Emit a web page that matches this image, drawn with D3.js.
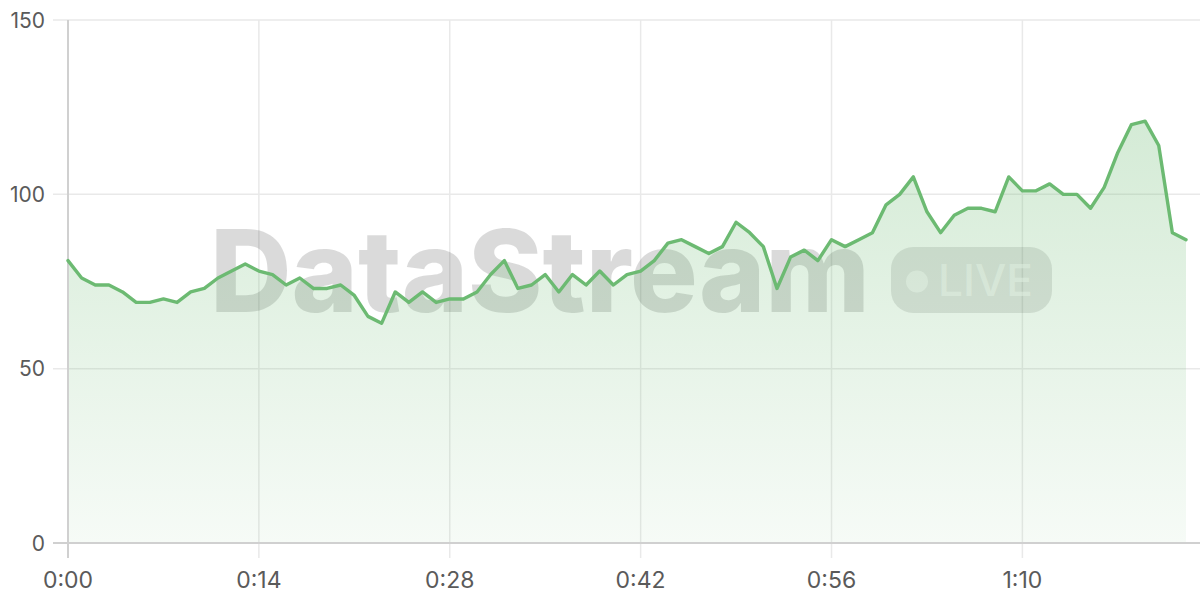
<!DOCTYPE html>
<html>
<head>
<meta charset="utf-8">
<script src="https://cdn.jsdelivr.net/npm/d3@7"></script>
<style>
  html, body { margin: 0; padding: 0; background: #ffffff; }
  svg { display: block; }
</style>
</head>
<body>
<svg id="chart" width="1200" height="600"></svg>
<script>
// ---- data ----
const seconds = d3.range(0, 83);
const values = [
  81, 76, 74, 74, 72, 69, 69, 70, 69, 72,
  73, 76, 78, 80, 78, 77, 74, 76, 73, 73,
  74, 71, 65, 63, 72, 69, 72, 69, 70, 70,
  72, 77, 81, 73, 74, 77, 72, 77, 74, 78,
  74, 77, 78, 81, 86, 87, 85, 83, 85, 92,
  89, 85, 73, 82, 84, 81, 87, 85, 87, 89,
  97, 100, 105, 95, 89, 94, 96, 96, 95, 105,
  101, 101, 103, 100, 100, 96, 102, 112, 120, 121,
  114, 89, 87
];
const xTicks = [0, 14, 28, 42, 56, 70];
const yTicks = [0, 50, 100, 150];
const watermarkTitle = "DataStream";
const watermarkBadge = "LIVE";

const data = seconds.map((s, i) => ({ s, v: values[i] }));

(function () {
const svg = d3.select("#chart");
const mLeft = 68, mRight = 1186, mTop = 20, mBottom = 543, gridRight = 1200;
const labelFont = "Inter, 'Liberation Sans', Arial, sans-serif";

const x = d3.scaleLinear().domain([0, 82]).range([mLeft, mRight]);
const y = d3.scaleLinear().domain([0, 150]).range([mBottom, mTop]);

const fmt = s => Math.floor(s / 60) + ":" + String(s % 60).padStart(2, "0");

const defs = svg.append("defs");
const grad = defs.append("linearGradient")
  .attr("id", "areaGrad")
  .attr("gradientUnits", "userSpaceOnUse")
  .attr("x1", 0).attr("x2", 0).attr("y1", y(125)).attr("y2", mBottom);
grad.append("stop").attr("offset", "0%").attr("stop-color", "#6cba72").attr("stop-opacity", 0.30);
grad.append("stop").attr("offset", "100%").attr("stop-color", "#6cba72").attr("stop-opacity", 0.06);

// horizontal grid
svg.append("g").selectAll("line").data(yTicks.filter(t => t !== 0)).join("line")
  .attr("x1", 53).attr("x2", gridRight)
  .attr("y1", d => y(d)).attr("y2", d => y(d))
  .attr("stroke", "#e9e9e9").attr("stroke-width", 1.5);

// vertical grid
svg.append("g").selectAll("line").data(xTicks.filter(t => t !== 0)).join("line")
  .attr("x1", d => x(d)).attr("x2", d => x(d))
  .attr("y1", mTop).attr("y2", mBottom + 15)
  .attr("stroke", "#e9e9e9").attr("stroke-width", 1.5);

// watermark
const wm = svg.append("g");
wm.append("text")
  .attr("x", 210).attr("y", 312)
  .attr("font-family", labelFont)
  .attr("font-weight", 800)
  .attr("font-size", 114)
  .attr("textLength", 660)
  .attr("lengthAdjust", "spacingAndGlyphs")
  .attr("fill", "#000").attr("fill-opacity", 0.145)
  .text(watermarkTitle);
wm.append("rect")
  .attr("x", 891).attr("y", 247).attr("width", 161).attr("height", 66).attr("rx", 22)
  .attr("fill", "#000").attr("fill-opacity", 0.11);
wm.append("circle").attr("cx", 917).attr("cy", 281.5).attr("r", 11)
  .attr("fill", "#fff").attr("fill-opacity", 0.55);
wm.append("text")
  .attr("x", 938).attr("y", 296)
  .attr("font-family", labelFont)
  .attr("font-weight", 500)
  .attr("font-size", 44)
  .attr("textLength", 95)
  .attr("lengthAdjust", "spacingAndGlyphs")
  .attr("fill", "#fff").attr("fill-opacity", 0.55)
  .text(watermarkBadge);

// area
svg.append("path").datum(data)
  .attr("d", d3.area().x(d => x(d.s)).y0(mBottom).y1(d => y(d.v)))
  .attr("fill", "url(#areaGrad)");

// axis lines
svg.append("line").attr("x1", mLeft).attr("x2", mLeft).attr("y1", mTop).attr("y2", mBottom + 15)
  .attr("stroke", "#d0d0d0").attr("stroke-width", 2);
svg.append("line").attr("x1", 53).attr("x2", gridRight).attr("y1", mBottom).attr("y2", mBottom)
  .attr("stroke", "#d0d0d0").attr("stroke-width", 2);

// line
svg.append("path").datum(data)
  .attr("d", d3.line().x(d => x(d.s)).y(d => y(d.v)))
  .attr("fill", "none").attr("stroke", "#6cba72").attr("stroke-width", 3.4)
  .attr("stroke-linejoin", "round").attr("stroke-linecap", "round");

// y labels
svg.append("g").selectAll("text").data(yTicks).join("text")
  .attr("x", 45).attr("y", d => y(d)).attr("dy", "0.36em")
  .attr("text-anchor", "end")
  .attr("font-family", labelFont)
  .attr("font-size", 21).attr("fill", "#5a5a5a")
  .text(d => d);

// x labels
svg.append("g").selectAll("text").data(xTicks).join("text")
  .attr("x", d => x(d)).attr("y", 588)
  .attr("text-anchor", "middle")
  .attr("font-family", labelFont)
  .attr("font-size", 23).attr("fill", "#5a5a5a")
  .text(d => fmt(d));
})();
</script>
</body>
</html>
